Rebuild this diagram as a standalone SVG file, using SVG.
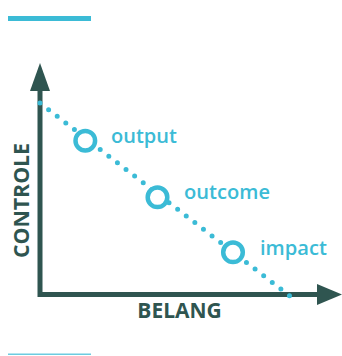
<svg xmlns="http://www.w3.org/2000/svg" width="342" height="356" viewBox="0 0 342 356">
<style>
.axis{stroke:#2f5550;stroke-width:5;fill:none}
.head{fill:#2f5550}
.ring{fill:#fff;stroke:#3bbbd6;stroke-width:4.5}
.lbl{font-family:"Open Sans",Lato,sans-serif;font-weight:600;font-size:19px;fill:#3bbbd6}
.ax{font-family:"Open Sans",Lato,sans-serif;font-weight:700;font-size:21px;fill:#2f5550}
</style>
<rect x="8" y="16" width="83" height="5" fill="#3bbbd6"/>
<rect x="8" y="353.5" width="83" height="1.5" fill="#6ccbe0"/>
<g id="connectors">
<polyline class="axis" points="40,88 40,294.5 320,294.5"/>
<polygon class="head" points="40,63 50,91 30,91"/>
<polygon class="head" points="342,294.5 317,284 317,305"/>
<line x1="40" y1="103" x2="290" y2="296.1" stroke="#3bbbd6" stroke-width="5" stroke-linecap="round" stroke-dasharray="0 10.87"/>
</g>
<g id="output"><circle class="ring" cx="85.3" cy="140.7" r="9.8"/><text class="lbl" x="111" y="143.3" textLength="66" lengthAdjust="spacingAndGlyphs">output</text></g>
<g id="outcome"><circle class="ring" cx="157.5" cy="197.3" r="9.8"/><text class="lbl" x="184" y="198.7" textLength="86" lengthAdjust="spacingAndGlyphs">outcome</text></g>
<g id="impact"><circle class="ring" cx="233" cy="252.3" r="9.8"/><text class="lbl" x="260" y="255" textLength="67" lengthAdjust="spacingAndGlyphs">impact</text></g>
<g id="x-label"><text class="ax" x="137.3" y="318.3" textLength="84.4" lengthAdjust="spacingAndGlyphs">BELANG</text></g>
<g id="y-label"><text class="ax" transform="translate(28.5,258) rotate(-90)" textLength="115" lengthAdjust="spacingAndGlyphs">CONTROLE</text></g>
</svg>
